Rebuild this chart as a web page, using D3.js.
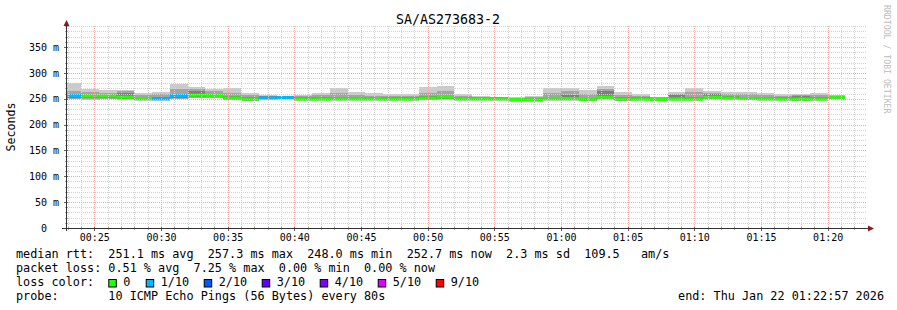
<!DOCTYPE html>
<html><head><meta charset="utf-8">
<script src="https://cdn.jsdelivr.net/npm/d3@7"></script>
<style>
body{margin:0;background:#fff;}
svg{display:block;font-family:"DejaVu Sans Mono",monospace;}
</style></head><body><svg id="c" width="897" height="310"></svg>
<script>
// ---------------- data ----------------
const chartTitle = "SA/AS273683-2";
const yAxisTitle = "Seconds";
const watermark = "RRDTOOL / TOBI OETIKER";
const rangeStart = "2026-01-22T00:22:57Z";
const rangeEnd = "2026-01-22T01:22:57Z";
const firstStepStart = "2026-01-22T00:22:40Z";
const stepSeconds = 80;

const medianRtt = [256,255,255,253,250.5,250,256,257,256,251.5,249.5,251.5,252.5,249.5,249.5,250,250,250,249.5,249.5,251.5,253,250,250,250,248.5,248,250.5,250.5,249,253,249.5,249.5,248.5,249.5,249.5,253,251.5,250.5,250,249.5,249.5,249.5,253];
const lossCount = [1,0,0,0,0,1,1,0,0,0,0,1,1,0,0,0,0,0,0,0,0,0,0,0,0,0,0,0,0,0,0,0,0,0,0,0,0,0,0,0,0,0,0,0];
const ping10 = [280,269,266,266,260.5,263.5,278.5,272,269,271,261.5,257,255.5,257,262,270,262.5,262,258.5,259,272,274.5,259,255,254,253,255,270,271,267,274.5,263.5,259,254,263.5,270,265.5,263.5,263.5,261,259,259,261,257];
const ping9 = [265,263,262,265,258,259,268,268,264,262,257,256,255,255,258,261,258,256,256,256,262,264,256,254,253,252,253,262,265,260,268,258,256,253,260,263,262,259,259,258,256,257,258,256];
const ping8 = [259,258,258,262,254,253,259,265,259,255,253,255,256,253,253,254,253,254,253,253,255,256,253,253,253,252,251,254,258,252,265,253,253,252,258,254,259,255,254,253,253,256,253,256];
const ping3 = [251,251,252,250,248,248,251,253,253,249,247,250,251,248,248,248,248,248,248,248,249,250,248,248,248,246,246,248,248,247,251,247,248,247,248,248,251,250,249,248,248,247,248,251];
const ping2 = [250,249,250,249,247,247,250,252,252,248,246,249,250,247,247,247,247,247,247,247,248,249,247,247,247,245,245,247,247,246,250,246,247,246,247,247,250,249,248,247,247,246,247,250];
const ping1 = [249,248,249,248,246,246,249,251,251,247,245,248,249,246,246,246,246,246,246,246,247,248,246,246,246,244,244,246,246,245,249,245,246,245,246,246,249,248,247,246,246,245,246,249];

const xTickLabels = ["00:25","00:30","00:35","00:40","00:45","00:50","00:55","01:00","01:05","01:10","01:15","01:20"];
const yTickValues = [0,50,100,150,200,250,300,350];

const rttStats = ["251.1 ms avg","257.3 ms max","248.0 ms min","252.7 ms now","2.3 ms sd","109.5   am/s"];
const lossStats = ["0.51 % avg","7.25 % max","0.00 % min","0.00 % now"];
const lossLabels = ["0","1/10","2/10","3/10","4/10","5/10","9/10"];
const lossColors = ["#26ff00","#00b8ff","#0059ff","#5e00ff","#7e00ff","#dd00ff","#ff0000"];
const probeText = "10 ICMP Echo Pings (56 Bytes) every 80s";
const endText = "end: Thu Jan 22 01:22:57 2026";
const smokeColors = ["#cacaca","#a4a4a4","#7e7e7e"];

// ---------------- drawing ----------------
const nb = s => s.replace(/ /g, "\u00a0");
const svg = d3.select("#c");
const L = 67, R = 867, B = 228, T = 26;
const x = d3.scaleUtc().domain([new Date(rangeStart), new Date(rangeEnd)]).range([L, R]);
const y = d3.scaleLinear().domain([0, 390.6]).range([B, T]);

const t0 = new Date(firstStepStart).getTime();
const bars = medianRtt.map((m, i) => ({
  t0: new Date(t0 + i * stepSeconds * 1000),
  t1: new Date(t0 + (i + 1) * stepSeconds * 1000),
  med: m, loss: lossCount[i],
  layers: [[ping1[i], ping10[i]], [ping2[i], ping9[i]], [ping3[i], ping8[i]]]
}));

svg.append("defs").append("clipPath").attr("id", "plot")
  .append("rect").attr("x", L).attr("y", T).attr("width", R - L).attr("height", B - T);

const g = svg.append("g").attr("clip-path", "url(#plot)");
smokeColors.forEach((c, li) => {
  g.append("g").selectAll("rect").data(bars).join("rect")
    .attr("x", d => x(d.t0)).attr("width", d => x(d.t1) - x(d.t0))
    .attr("y", d => y(d.layers[li][1]))
    .attr("height", d => y(d.layers[li][0]) - y(d.layers[li][1]))
    .attr("fill", c).attr("shape-rendering", "crispEdges");
});
const lossIdx = n => Math.min(n, 6);
g.append("g").selectAll("rect").data(bars).join("rect")
  .attr("x", d => x(d.t0)).attr("width", d => x(d.t1) - x(d.t0))
  .attr("y", d => y(d.med) - 1.5).attr("height", 3)
  .attr("fill", d => lossColors[lossIdx(d.loss)]);

// grid (drawn on top like rrdtool)
const grid = svg.append("g");
const minutes = d3.utcMinute.range(new Date(rangeStart), new Date(rangeEnd));
const majorDates = xTickLabels.map(s => new Date(`2026-01-22T${s}:00Z`));
const isMajorT = d => d.getUTCMinutes() % 5 === 0;
const minorCol = "#d2d2d2", majorCol = "#eeaaaa";
grid.selectAll("line.vmin").data(minutes.filter(d => !isMajorT(d))).join("line")
  .attr("x1", d => Math.round(x(d)) + 0.5).attr("x2", d => Math.round(x(d)) + 0.5)
  .attr("y1", T).attr("y2", B)
  .attr("stroke", minorCol).attr("stroke-dasharray", "1,1");
const minorV = d3.range(10, 391, 10).filter(v => v % 50 !== 0);
grid.selectAll("line.hmin").data(minorV).join("line")
  .attr("x1", L).attr("x2", R)
  .attr("y1", d => Math.round(y(d)) + 0.5).attr("y2", d => Math.round(y(d)) + 0.5)
  .attr("stroke", minorCol).attr("stroke-dasharray", "1,1");
grid.selectAll("line.vmaj").data(majorDates).join("line")
  .attr("x1", d => Math.round(x(d)) + 0.5).attr("x2", d => Math.round(x(d)) + 0.5)
  .attr("y1", T).attr("y2", B)
  .attr("stroke", majorCol).attr("stroke-dasharray", "1,1");
grid.selectAll("line.hmaj").data(yTickValues.filter(v => v > 0)).join("line")
  .attr("x1", L).attr("x2", R)
  .attr("y1", d => Math.round(y(d)) + 0.5).attr("y2", d => Math.round(y(d)) + 0.5)
  .attr("stroke", majorCol).attr("stroke-dasharray", "1,1");

// axes
const xAxis = d3.axisBottom(x).tickValues(majorDates).tickFormat(d3.utcFormat("%H:%M"))
  .tickSize(0).tickPadding(6);
const gx = svg.append("g").attr("transform", `translate(0,${B})`).call(xAxis);
gx.select(".domain").remove();
gx.selectAll("text").attr("font-family", "DejaVu Sans Mono").attr("font-size", 10).attr("fill", "#000");

const yAxis = d3.axisLeft(y).tickValues(yTickValues)
  .tickFormat(v => v === 0 ? "0\u00a0\u00a0" : v + "\u00a0m").tickSize(0).tickPadding(8);
const gy = svg.append("g").attr("transform", `translate(${L},0)`).call(yAxis);
gy.select(".domain").remove();
gy.selectAll("text").attr("font-family", "DejaVu Sans Mono").attr("font-size", 10).attr("fill", "#000");

// tick marks
svg.append("g").selectAll("line").data(minutes).join("line")
  .attr("x1", d => Math.round(x(d)) + 0.5).attr("x2", d => Math.round(x(d)) + 0.5)
  .attr("y1", B - 1).attr("y2", d => isMajorT(d) ? B + 3 : B + 2)
  .attr("stroke", d => isMajorT(d) ? "#666" : "#aaa");
svg.append("g").selectAll("line").data(d3.range(10, 391, 10)).join("line")
  .attr("x1", d => d % 50 === 0 ? L - 3 : L - 2).attr("x2", L + 1)
  .attr("y1", d => Math.round(y(d)) + 0.5).attr("y2", d => Math.round(y(d)) + 0.5)
  .attr("stroke", d => d % 50 === 0 ? "#666" : "#aaa");

// axis lines + arrows
svg.append("line").attr("x1", 62).attr("x2", 869).attr("y1", B + 0.5).attr("y2", B + 0.5).attr("stroke", "#333");
svg.append("line").attr("x1", L - 0.5).attr("x2", L - 0.5).attr("y1", B + 3).attr("y2", 24).attr("stroke", "#333");
svg.append("path").attr("d", `M${L - 3.5},26 L${L + 2.5},26 L${L - 0.5},20 Z`).attr("fill", "#8b1a1a");
svg.append("path").attr("d", `M868,${B - 2.5} L868,${B + 3.5} L874,${B + 0.5} Z`).attr("fill", "#8b1a1a");

// titles
svg.append("text").attr("x", 448).attr("y", 24).attr("text-anchor", "middle")
  .attr("font-size", 13.3).text(chartTitle);
svg.append("text").attr("transform", "translate(15,127) rotate(-90)").attr("text-anchor", "middle")
  .attr("font-size", 11.6).text(yAxisTitle);
svg.append("text").attr("transform", "translate(883.5,5) rotate(90)")
  .attr("font-size", 8.2).attr("fill", "#bdbdbd").text(nb(watermark));

// legend
const fs = 11.8, cw = 7.1, lx = 16;
svg.append("text").attr("x", lx).attr("y", 258).attr("font-size", fs)
  .text(nb("median rtt:  " + rttStats.join("  ")));
svg.append("text").attr("x", lx).attr("y", 272).attr("font-size", fs)
  .text(nb("packet loss: " + lossStats.join("  ")));
svg.append("text").attr("x", lx).attr("y", 286).attr("font-size", fs).text(nb("loss color:"));
let bx = 108.3;
lossLabels.forEach((lab, i) => {
  svg.append("rect").attr("x", bx + 0.5).attr("y", 279.5).attr("width", 7.5).attr("height", 7.5)
    .attr("fill", lossColors[i]).attr("stroke", "#000").attr("stroke-width", 1);
  svg.append("text").attr("x", bx + 15).attr("y", 286).attr("font-size", fs).text(lab);
  bx = bx + 15 + lab.length * cw + (i === 0 ? 15.3 : 14.6);
});
svg.append("text").attr("x", lx).attr("y", 300).attr("font-size", fs)
  .text(nb("probe:       " + probeText));
svg.append("text").attr("x", 884).attr("y", 300).attr("text-anchor", "end").attr("font-size", fs)
  .text(nb(endText));
</script></body></html>
